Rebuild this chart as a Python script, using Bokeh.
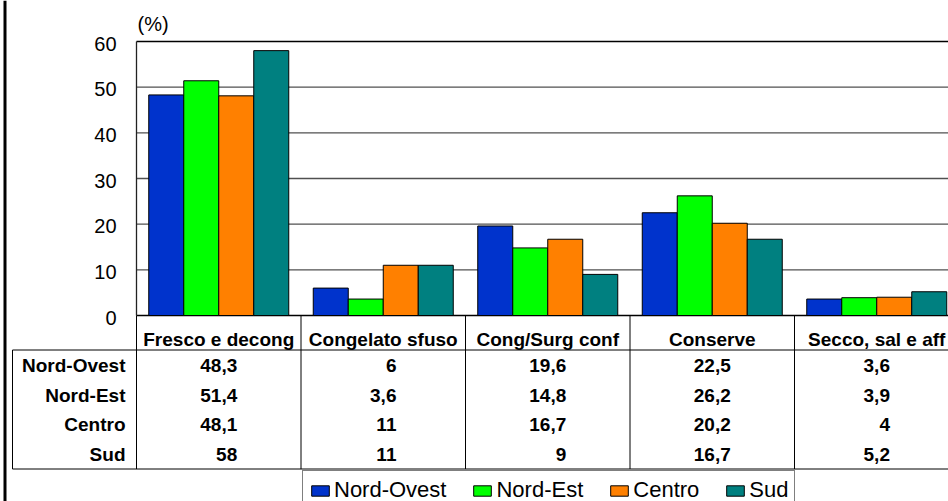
from bokeh.plotting import figure
from bokeh.models import Range1d, ColumnDataSource, Legend, LegendItem
from bokeh.transform import dodge
from bokeh.core.properties import value
from bokeh.embed import file_html
from bokeh.resources import INLINE

# ---------------- data ----------------
categories = ["Fresco e decong", "Congelato sfuso", "Cong/Surg conf", "Conserve", "Secco, sal e aff"]
regions = ["Nord-Ovest", "Nord-Est", "Centro", "Sud"]
nord_ovest = [48.3, 6, 19.6, 22.5, 3.6]
nord_est = [51.4, 3.6, 14.8, 26.2, 3.9]
centro = [48.1, 11, 16.7, 20.2, 4]
sud = [58, 11, 9, 16.7, 5.2]
y_ticks = [0, 10, 20, 30, 40, 50, 60]
unit_label = "(%)"

series = [nord_ovest, nord_est, centro, sud]
colors = ["#0033CC", "#00FF00", "#FF8000", "#008080"]

# ---------------- layout constants (pixels of the 948x501 canvas) ----------------
FONT = "Liberation Sans"
W, H = 948, 501
PLOT_LEFT = 136          # left edge of plot area / first category
CAT_PX = 164.5           # width of one category
Y0_PX, Y60_PX = 315, 41  # pixel rows of value 0 and value 60
PX_PER_UNIT = (Y0_PX - Y60_PX) / 60
ROW_TOP_PX = 349.5       # top line of the data rows
ROW_PX = 29.75           # row height
BASE_FIX = -7            # correction for alphabetic baseline placement

n = len(categories)
nrows = len(regions)


def xpx(p):   # pixel column -> category units
    return (p - PLOT_LEFT) / CAT_PX


def fmt(v):
    return f"{v:g}".replace(".", ",")


X_START, X_END = xpx(0), xpx(W)
V_TOP = max(y_ticks) + (Y60_PX - 0) / PX_PER_UNIT
V_BOT = -(H - Y0_PX) / PX_PER_UNIT
R_TOP = -(ROW_TOP_PX - 0) / ROW_PX
R_BOT = (H - ROW_TOP_PX) / ROW_PX
R_HDR = -(ROW_TOP_PX - Y0_PX) / ROW_PX

p = figure(width=W, height=H, output_backend="svg", toolbar_location=None,
           x_range=Range1d(X_START, X_END), y_range=Range1d(V_BOT, V_TOP),
           x_axis_type=None, y_axis_type=None,
           min_border_left=0, min_border_right=0, min_border_top=0, min_border_bottom=0,
           outline_line_color=None, background_fill_color="white", border_fill_color="white")
p.extra_y_ranges = {"tbl": Range1d(R_BOT, R_TOP)}

# ---------------- value grid and axis ----------------
inner = y_ticks[1:-1]
p.segment(x0=[0] * len(inner), y0=inner, x1=[X_END] * len(inner), y1=inner,
          line_color="#505050", line_width=1.3)
edge = [y_ticks[0], y_ticks[-1]]
p.segment(x0=[0, 0], y0=edge, x1=[X_END, X_END], y1=edge, line_color="black", line_width=1.3)
p.segment(x0=[0], y0=[y_ticks[0]], x1=[0], y1=[y_ticks[-1]], line_color="#222222", line_width=1.3)
p.text(x=[xpx(116)] * len(y_ticks), y=y_ticks, text=[str(t) for t in y_ticks],
       y_offset=9 + BASE_FIX,
       text_font=value(FONT), text_font_size="20px", text_align="right",
       text_baseline="alphabetic", text_color="black")
p.text(x=[xpx(137)], y=[(Y0_PX - 30) / PX_PER_UNIT], text=[unit_label], text_font=value(FONT),
       y_offset=BASE_FIX,
       text_font_size="20px", text_baseline="alphabetic", text_align="left", text_color="black")

# ---------------- bars ----------------
src = ColumnDataSource(dict(xc=[i + 0.5 for i in range(n)],
                            s0=nord_ovest, s1=nord_est, s2=centro, s3=sud))
bw = 35 / CAT_PX
bars = []
for k, c in enumerate(colors):
    r = p.vbar(x=dodge("xc", (k - 1.5) * bw), top=f"s{k}", bottom=0, width=bw, source=src,
               fill_color=c, line_color="black", line_width=1)
    bars.append(r)

# ---------------- outer chart border (left) ----------------
p.segment(x0=[xpx(4.5)], y0=[V_BOT], x1=[xpx(4.5)], y1=[V_TOP], line_color="black", line_width=3)

# ---------------- data table ----------------
X_LEFT = xpx(12)
p.segment(x0=list(range(n)), y0=[R_HDR] * n, x1=list(range(n)), y1=[nrows] * n,
          line_color="black", line_width=1, y_range_name="tbl")
p.segment(x0=[X_LEFT], y0=[0], x1=[X_LEFT], y1=[nrows], line_color="black", line_width=1,
          y_range_name="tbl")
p.segment(x0=[X_LEFT, X_LEFT], y0=[0, nrows], x1=[X_END, X_END], y1=[0, nrows],
          line_color="black", line_width=1, y_range_name="tbl")

TFS = 19
p.text(x=[i + 0.5 for i in range(n)], y=[0] * n, text=categories, y_offset=-4 + BASE_FIX,
       text_font=value(FONT), text_font_style="bold", text_font_size=f"{TFS}px",
       text_align="center", text_baseline="alphabetic", text_color="black", y_range_name="tbl")

p.text(x=[xpx(125)] * nrows, y=[k + 0.5 for k in range(nrows)], text=regions,
       y_offset=7.5 + BASE_FIX,
       text_font=value(FONT), text_font_style="bold", text_font_size=f"{TFS}px",
       text_align="right", text_baseline="alphabetic", text_color="black", y_range_name="tbl")


def text_w(s, size=TFS):
    return sum(0.278 if ch in ",." else 0.556 for ch in s) * size


xs, ys, txt, offs = [], [], [], []
for j in range(n):
    col_labels = [fmt(s[j]) for s in series]
    half = max(text_w(t) for t in col_labels) / 2
    for k, t in enumerate(col_labels):
        xs.append(j + 0.5)
        ys.append(k + 0.5)
        txt.append(t)
        offs.append(half)
vsrc = ColumnDataSource(dict(x=xs, y=ys, t=txt, xo=offs))
p.text(x="x", y="y", text="t", x_offset="xo", y_offset=7.5 + BASE_FIX, source=vsrc,
       text_font=value(FONT), text_font_style="bold", text_font_size=f"{TFS}px",
       text_align="right", text_baseline="alphabetic", text_color="black", y_range_name="tbl")

# ---------------- legend ----------------
legend = Legend(items=[LegendItem(label=r, renderers=[b]) for r, b in zip(regions, bars)],
                orientation="horizontal", location=(302, -9),
                label_text_font=FONT, label_text_font_size="22px", label_text_color="black",
                glyph_width=22, glyph_height=13, label_standoff=3, spacing=25,
                padding=6, margin=0, border_line_color="black", border_line_width=1,
                background_fill_color="white", background_fill_alpha=1)
p.add_layout(legend)

open("out.html", "w").write(file_html(p, INLINE))
